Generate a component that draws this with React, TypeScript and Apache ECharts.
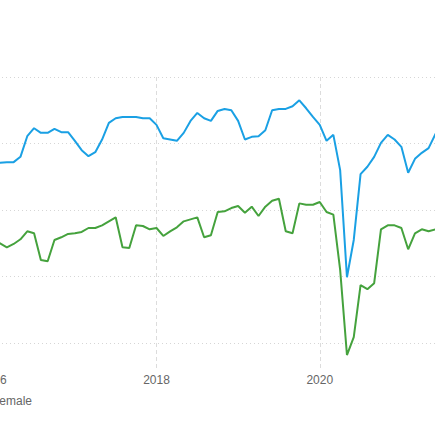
import React, { useEffect, useRef } from "react";
import * as echarts from "echarts";

const startYear = 2016;
const seriesNames = ["Male", "Female"];
const tickYears = [2014, 2016, 2018, 2020, 2022];

// monthly values starting January 2016
const maleValues = [
  66.9, 67.1, 67.2, 67.2, 68.0, 71.1, 72.3, 71.6, 71.6, 72.2, 71.7, 71.7,
  70.4, 69.0, 68.1, 68.7, 70.6, 73.1, 73.8, 74.0, 74.0, 74.0, 73.8, 73.8,
  72.8, 70.8, 70.6, 70.4, 71.6, 73.4, 74.6, 73.8, 73.4, 74.9, 75.2, 75.0,
  73.4, 70.6, 71.0, 71.1, 72.0, 75.0, 75.2, 75.2, 75.6, 76.5, 75.3, 74.0,
  72.8, 70.4, 71.3, 66.0, 49.9, 55.5, 65.4, 66.5, 68.0, 70.1, 71.3, 70.6,
  69.5, 65.6, 67.7, 68.6, 69.3, 71.4, 72.8,
];

const femaleValues = [
  55.2, 55.0, 54.4, 54.9, 55.6, 56.8, 56.5, 52.5, 52.3, 55.5, 55.9, 56.4,
  56.5, 56.7, 57.3, 57.3, 57.7, 58.3, 58.9, 54.4, 54.3, 57.7, 57.6, 57.1,
  57.3, 56.1, 56.8, 57.4, 58.3, 58.6, 58.9, 55.9, 56.2, 59.7, 59.8, 60.3,
  60.6, 59.6, 60.5, 59.1, 60.5, 61.4, 61.7, 56.8, 56.5, 61.0, 60.8, 60.8,
  61.2, 59.7, 59.3, 51.0, 38.2, 40.9, 48.7, 48.1, 49.0, 57.1, 57.7, 57.7,
  57.3, 54.1, 56.5, 57.1, 56.8, 57.1, 57.1,
];

const toPoints = (vals: number[]) => vals.map((v, i) => [i, v]);

export default function App() {
  const ref = useRef<HTMLDivElement>(null);

  useEffect(() => {
    if (!ref.current) return;
    const chart = echarts.init(ref.current, undefined, { renderer: "svg" });
    const xMin = (tickYears[0] - startYear) * 12;
    const xMax = (tickYears[tickYears.length - 1] - startYear) * 12;
    chart.setOption({
      animation: false,
      backgroundColor: "#ffffff",
      textStyle: { fontFamily: "Liberation Sans, Arial, sans-serif" },
      grid: { left: 50, right: 57, top: 77, bottom: 66, containLabel: false },
      legend: {
        data: seriesNames,
        left: 109,
        top: 390,
        itemGap: 10,
        textStyle: { fontSize: 12, color: "#666" },
      },
      xAxis: {
        type: "value",
        min: xMin,
        max: xMax,
        interval: 24,
        axisLine: { show: false },
        axisTick: { show: false },
        axisLabel: {
          margin: 5,
          fontSize: 12,
          color: "#666",
          showMinLabel: false,
          showMaxLabel: false,
          formatter: (v: number) => String(startYear + v / 12),
        },
        splitLine: {
          show: true,
          lineStyle: { color: "#dcdcdc", type: [4, 3], width: 1 },
        },
      },
      yAxis: {
        type: "value",
        min: 36.1,
        max: 80,
        minInterval: 10,
        maxInterval: 10,
        axisLine: { show: false },
        axisTick: { show: false },
        axisLabel: { show: false },
        splitLine: {
          show: true,
          showMinLine: false,
          lineStyle: { color: "#d6d6d6", type: [1, 3], width: 1 },
        },
      },
      series: [
        {
          name: seriesNames[0],
          type: "line",
          data: toPoints(maleValues),
          showSymbol: false,
          symbol: "none",
          lineStyle: { color: "#1aa0e4", width: 2 },
          itemStyle: { color: "#1aa0e4" },
        },
        {
          name: seriesNames[1],
          type: "line",
          data: toPoints(femaleValues),
          showSymbol: false,
          symbol: "none",
          lineStyle: { color: "#45a23d", width: 2 },
          itemStyle: { color: "#45a23d" },
        },
      ],
    });
    return () => chart.dispose();
  }, []);

  return (
    <div
      style={{
        position: "fixed",
        left: 0,
        top: 0,
        width: 435,
        height: 435,
        overflow: "hidden",
        background: "#fff",
      }}
    >
      <div
        ref={ref}
        style={{ position: "absolute", left: -220, top: 0, width: 760, height: 435 }}
      />
    </div>
  );
}
